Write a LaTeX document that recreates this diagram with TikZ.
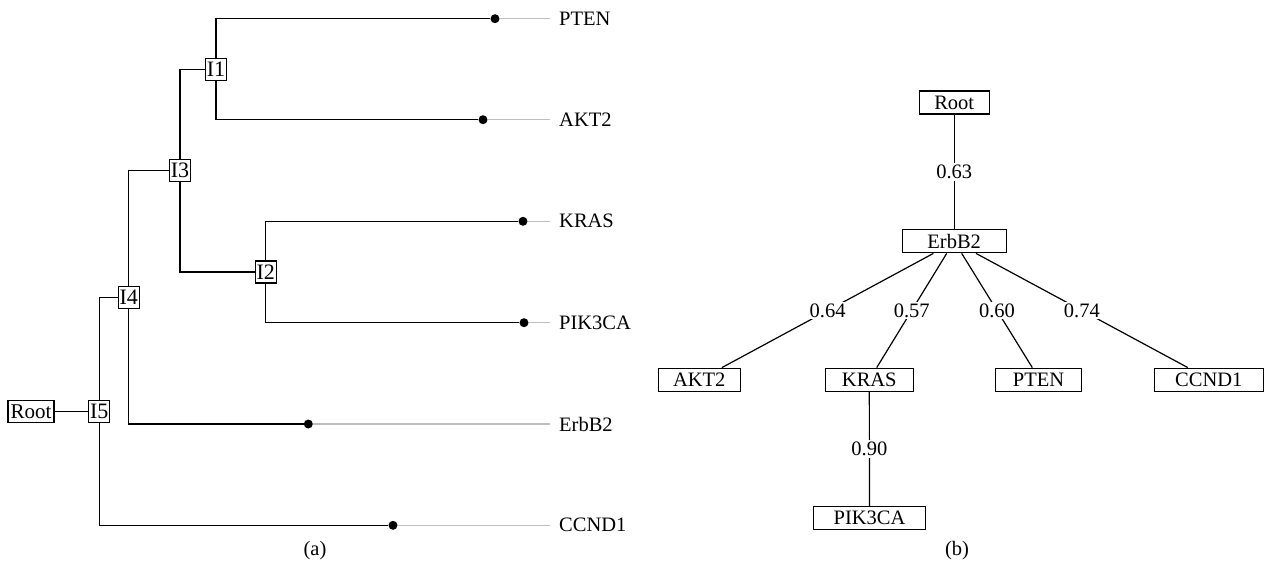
\documentclass[tikz,border=0pt]{standalone}
\usepackage{fontspec}
\setmainfont{Liberation Serif}
\begin{document}
\begin{tikzpicture}[x=1pt,y=-1pt,
  every node/.style={font=\fontsize{20.5}{24}\selectfont},
  ln/.style={line width=1.2pt,black},
  gl/.style={line width=1.2pt,black!25},
  inode/.style={draw,line width=1.2pt,fill=white,inner sep=0pt,minimum width=21pt,minimum height=22pt,font=\fontsize{22}{24}\selectfont},
  dot/.style={circle,fill=black,inner sep=0pt,minimum size=9pt},
  leaf/.style={anchor=west,inner sep=0pt},
  bnode/.style={draw,line width=1.2pt,fill=white,inner sep=0pt,minimum height=23pt},
  wl/.style={fill=white,inner sep=2pt,midway}]
\useasboundingbox (0,0) rectangle (1265,573);
% ---------- (a) ----------
\node[inode] (I1) at (216,69.2) {I1};
\node[inode] (I2) at (265.7,272) {I2};
\node[inode] (I3) at (180,170.6) {I3};
\node[inode] (I4) at (128.7,297.3) {I4};
\node[inode] (I5) at (99.3,411.3) {I5};
\node[inode,minimum width=46pt,font=\fontsize{21}{24}\selectfont] (R) at (31,411.3) {Root};
\node[dot] (dPTEN) at (495,18.7) {};
\node[dot] (dAKT2) at (483,119.7) {};
\node[dot] (dKRAS) at (523,221.3) {};
\node[dot] (dPIK) at (524,322.7) {};
\node[dot] (dErb) at (308.3,424) {};
\node[dot] (dCC) at (393,525.3) {};
\node[leaf] (lPTEN) at (559,18.7) {PTEN};
\node[leaf] (lAKT2) at (559,119.7) {AKT2};
\node[leaf] (lKRAS) at (559,221.3) {KRAS};
\node[leaf] (lPIK) at (559,322.7) {PIK3CA};
\node[leaf] (lErb) at (559,424) {ErbB2};
\node[leaf] (lCC) at (559,525.3) {CCND1};
\foreach \d/\l in {dPTEN/lPTEN,dAKT2/lAKT2,dKRAS/lKRAS,dPIK/lPIK,dErb/lErb,dCC/lCC}
  \draw[gl] (\d) -- ([xshift=-9pt]\l.west);
\draw[ln] (I1.north) |- (dPTEN);
\draw[ln] (I1.south) |- (dAKT2);
\draw[ln] (I2.north) |- (dKRAS);
\draw[ln] (I2.south) |- (dPIK);
\draw[ln] (I3.north) |- (I1.west);
\draw[ln] (I3.south) |- (I2.west);
\draw[ln] (I4.north) |- (I3.west);
\draw[ln] (I4.south) |- (dErb);
\draw[ln] (I5.north) |- (I4.west);
\draw[ln] (I5.south) |- (dCC);
\draw[ln] (R.east) -- (I5.west);
\node (capa) at (315,551) {(a)};
% ---------- (b) ----------
\node[bnode,minimum width=70pt] (bR) at (954.2,102.5) {Root};
\node[bnode,minimum width=104pt] (bE) at (954.2,241.3) {ErbB2};
\node[bnode,minimum width=82pt] (bA) at (699.2,379.7) {AKT2};
\node[bnode,minimum width=88pt] (bK) at (869.3,379.7) {KRAS};
\node[bnode,minimum width=86pt] (bP) at (1038.5,379.7) {PTEN};
\node[bnode,minimum width=109pt] (bC) at (1208.8,379.7) {CCND1};
\node[bnode,minimum width=112pt] (bI) at (869.5,518) {PIK3CA};
\draw[ln] (bR) -- node[wl] (w1) {0.63} (bE);
\draw[ln] ([xshift=-20.8pt]bE.south) -- node[wl] (w2) {0.64} ([xshift=22.7pt]bA.north);
\draw[ln] ([xshift=-7.5pt]bE.south) -- node[wl] (w3) {0.57} ([xshift=7.4pt]bK.north);
\draw[ln] ([xshift=7.5pt]bE.south) -- node[wl] (w4) {0.60} ([xshift=-6.2pt]bP.north);
\draw[ln] ([xshift=21.8pt]bE.south) -- node[wl] (w5) {0.74} ([xshift=-21pt]bC.north);
\draw[ln] (bK) -- node[wl] (w6) {0.90} (bI);
\node (capb) at (957,551) {(b)};
\end{tikzpicture}
\end{document}
